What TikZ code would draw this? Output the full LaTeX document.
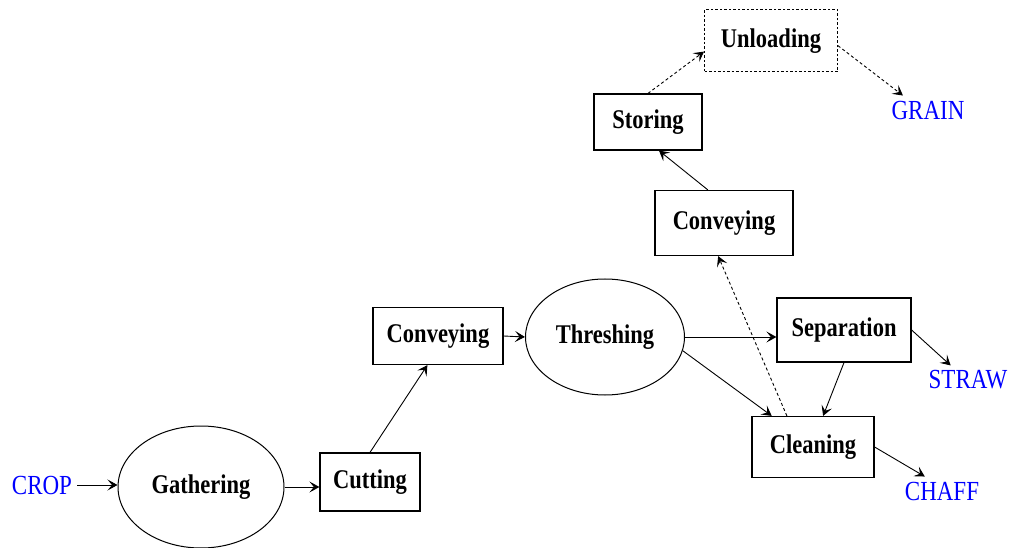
\documentclass[tikz,border=0pt]{standalone}
\usepackage{fontspec}
\setmainfont{Liberation Serif}
\usetikzlibrary{shapes.geometric,arrows.meta}
\newcommand\stretchtxt[1]{\scalebox{1}[1.2]{#1}}
\tikzset{
  lbl/.style={font=\fontsize{22.5}{27}\selectfont\bfseries, inner sep=0pt},
  procbox/.style={lbl, draw, line width=1.2pt, rectangle},
  procell/.style={lbl, draw, line width=1pt, ellipse},
  outlbl/.style={font=\fontsize{23}{27}\selectfont, text=blue, inner sep=5pt},
  flow/.style={line width=0.9pt, -{Stealth[length=10pt,width=11pt,inset=4.5pt]}},
  dflow/.style={flow, dash pattern=on 3pt off 2.5pt},
}
\begin{document}
\begin{tikzpicture}[x=1pt,y=-1pt]
\useasboundingbox (0,0) rectangle (1010,548);
% nodes
\node[outlbl] (crop) at (42,485) {\stretchtxt{CROP}};
\node[procell, minimum width=166pt, minimum height=122pt] (gath) at (201,487) {\stretchtxt{Gathering}};
\node[procbox, minimum width=100pt, minimum height=58pt] (cut) at (370,482) {\stretchtxt{Cutting}};
\node[procbox, minimum width=130pt, minimum height=57pt] (conv1) at (438,336) {\stretchtxt{Conveying}};
\node[procell, minimum width=159pt, minimum height=116pt] (thr) at (605,337) {\stretchtxt{Threshing}};
\node[procbox, minimum width=134pt, minimum height=64pt] (sep) at (844,330) {\stretchtxt{Separation}};
\node[procbox, minimum width=122pt, minimum height=61pt] (clean) at (813,447) {\stretchtxt{Cleaning}};
\node[procbox, minimum width=138pt, minimum height=65pt] (conv2) at (724,223) {\stretchtxt{Conveying}};
\node[procbox, minimum width=108pt, minimum height=56pt] (stor) at (648,122) {\stretchtxt{Storing}};
\node[procbox, minimum width=133pt, minimum height=62pt, line width=1pt, dash pattern=on 2.5pt off 2pt] (unl) at (771,41) {\stretchtxt{Unloading}};
\node[outlbl] (grain) at (928,110) {\stretchtxt{GRAIN}};
\node[outlbl] (straw) at (968,380) {\stretchtxt{STRAW}};
\node[outlbl] (chaff) at (942,491) {\stretchtxt{CHAFF}};
% connectors
\draw[flow] (crop.east) -- (gath.west |- crop.east);
\draw[flow] (gath.east) -- (cut.west |- gath.east);
\draw[flow] (cut.north) -- (conv1.250);
\draw[flow] (conv1.east) -- (thr.west);
\draw[flow] (thr.east) -- (sep.west |- thr.east);
\draw[flow] (thr.-10) -- (clean.143);
\draw[flow] (sep.south) -- (clean.72);
\draw[flow] (sep.east) -- (straw.140);
\draw[flow] (clean.east) -- (chaff.140);
\draw[dflow] (clean.130) -- (conv2.260);
\draw[flow] (conv2.116) -- (stor.291);
\draw[dflow] (stor.north) -- (unl.189);
\draw[dflow] (unl.-4) -- (grain.150);
\end{tikzpicture}
\end{document}
